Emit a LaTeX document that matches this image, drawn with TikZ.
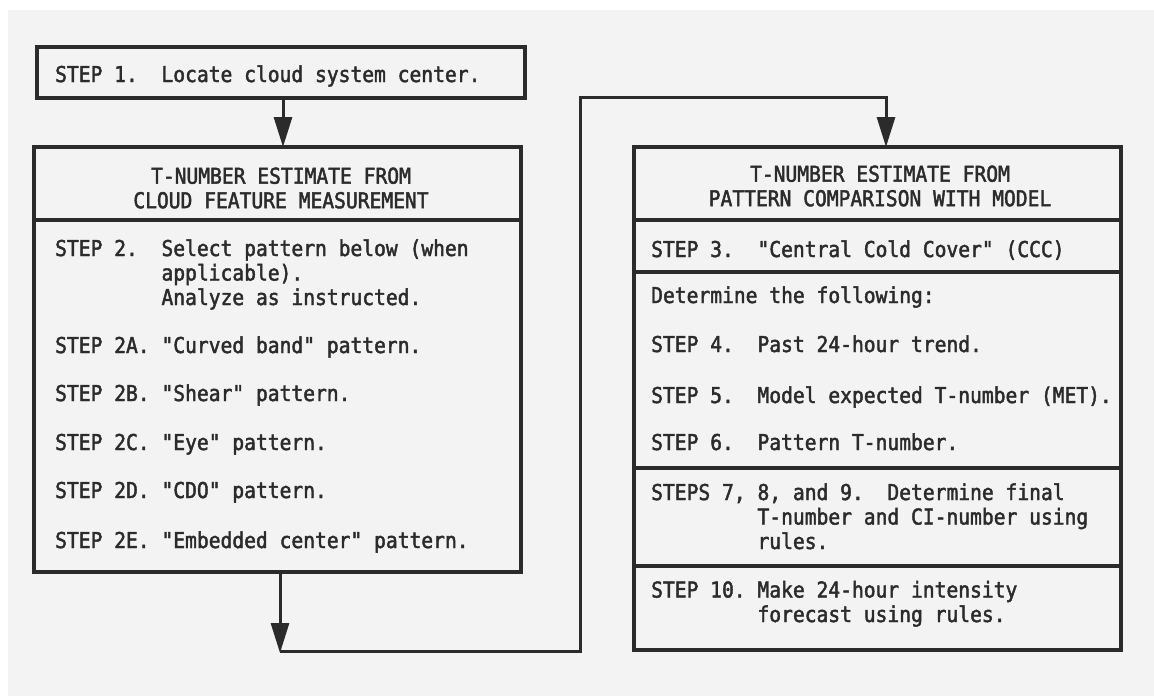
\documentclass[tikz,border=0pt]{standalone}
\usepackage{fontspec}
\setmonofont{DejaVu Sans Mono}[FakeStretch=0.9,FakeBold=2]
\usetikzlibrary{arrows.meta}
\definecolor{ink}{HTML}{2B2B2B}
\definecolor{paper}{HTML}{F3F3F3}
\frenchspacing
\begin{document}
\begin{tikzpicture}[x=1pt,y=-1pt,
  boxnode/.style={draw=ink,line width=3.5pt,rectangle,inner sep=0,outer sep=0},
  sepline/.style={draw=ink,line width=3.5pt},
  txt/.style={font=\ttfamily\fontsize{21.8}{24.5}\selectfont,inner sep=0,anchor=base west,align=left,text=ink},
  hdr/.style={font=\ttfamily\fontsize{21.8}{24.5}\selectfont,inner sep=0,anchor=center,align=center,text=ink},
  conn/.style={draw=ink,line width=3pt,line join=miter,-{Triangle[length=30pt,width=18pt]}},
  wire/.style={draw=ink,line width=3pt,line join=miter}]
\useasboundingbox (0,0) rectangle (1154,696);
\fill[paper] (8,10) rectangle (1154,696);
% boxes
\node[boxnode,minimum width=488pt,minimum height=51pt] (s1) at (281,72.5) {};
\node[boxnode,minimum width=487pt,minimum height=425pt] (L) at (277.5,359.5) {};
\node[boxnode,minimum width=487pt,minimum height=503pt] (R) at (877.5,398.5) {};
% separators
\draw[sepline] (L.west |- 0,220) -- (L.east |- 0,220);
\draw[sepline] (R.west |- 0,220) -- (R.east |- 0,220);
\draw[sepline] (R.west |- 0,272) -- (R.east |- 0,272);
\draw[sepline] (R.west |- 0,468) -- (R.east |- 0,468);
\draw[sepline] (R.west |- 0,566) -- (R.east |- 0,566);
% texts
\node[txt] (t1) at (55,82) {STEP~1.~~Locate cloud system center.};
\node[hdr] (hL) at (281,188) {T-NUMBER ESTIMATE FROM\\CLOUD FEATURE MEASUREMENT};
\node[txt] (t2) at (55,305) {STEP~2.~~Select pattern below (when\\\phantom{STEP~2.~~}applicable).\\\phantom{STEP~2.~~}Analyze as instructed.};
\node[txt] (t2a) at (55,353) {STEP~2A.~"Curved band" pattern.};
\node[txt] (t2b) at (55,401) {STEP~2B.~"Shear" pattern.};
\node[txt] (t2c) at (55,450) {STEP~2C.~"Eye" pattern.};
\node[txt] (t2d) at (55,498) {STEP~2D.~"CDO" pattern.};
\node[txt] (t2e) at (55,548) {STEP~2E.~"Embedded center" pattern.};
\node[hdr] (hR) at (880,186) {T-NUMBER ESTIMATE FROM\\PATTERN COMPARISON WITH MODEL};
\node[txt] (t3) at (651,257) {STEP~3.~~"Central Cold Cover" (CCC)};
\node[txt] (td) at (651,303) {Determine the following:};
\node[txt] (t4) at (651,352) {STEP~4.~~Past 24-hour trend.};
\node[txt] (t5) at (651,403) {STEP~5.~~Model expected T-number (MET).};
\node[txt] (t6) at (651,450) {STEP~6.~~Pattern T-number.};
\node[txt] (t7) at (651,549) {STEPS~7, 8, and 9.~~Determine final\\\phantom{STEPS~7,~}T-number and CI-number using\\\phantom{STEPS~7,~}rules.};
\node[txt] (t10) at (651,622) {STEP~10.~Make 24-hour intensity\\\phantom{STEP~10.~}forecast using rules.};
% connectors
\coordinate (ax) at (283,0);
\coordinate (c1) at (280,651);
\coordinate (c2) at (580,651);
\coordinate (c3) at (580,97);
\coordinate (c4) at (886,97);
\draw[conn] (s1.south -| ax) -- (L.north -| ax);
\draw[conn] (L.south -| c1) -- ([yshift=-2pt]c1);
\draw[wire] (c1) -- (c2) -- (c3) -- (c4);
\draw[conn] ([yshift=1.5pt]c4) -- (R.north -| c4);
\end{tikzpicture}
\end{document}
